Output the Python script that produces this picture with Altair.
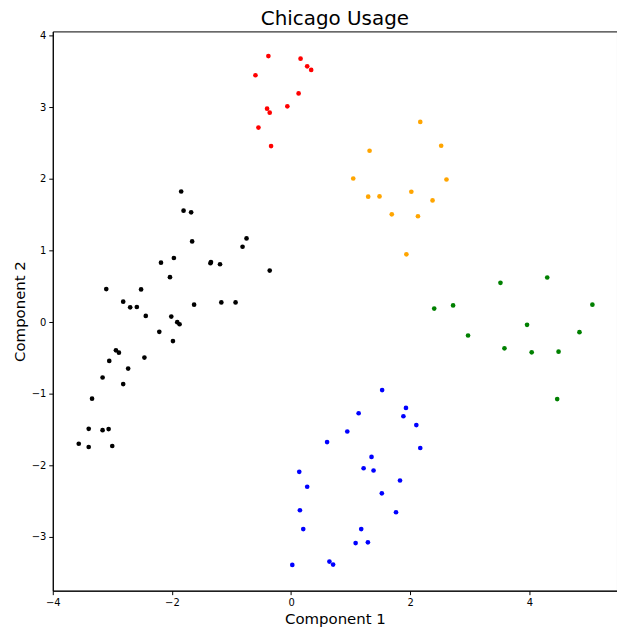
import altair as alt
import pandas as pd

black_x = [-1.845, -1.805, -1.678, -1.661, -0.815, -0.748, -0.359, -2.184, -1.967, -2.033,
           -1.354, -1.345, -1.193, -3.102, -2.518, -2.818, -2.701, -2.589, -2.439, -1.628,
           -1.171, -0.932, -2.011, -1.911, -1.872, -2.212, -1.983, -2.940, -2.890, -3.052,
           -2.462, -2.735, -3.164, -2.818, -3.341, -3.397, -3.164, -3.063, -3.564, -3.397, -3.002]
black_y = [1.825, 1.557, 1.534, 1.127, 1.053, 1.169, 0.720, 0.831, 0.896, 0.628,
           0.822, 0.840, 0.808, 0.462, 0.457, 0.286, 0.207, 0.212, 0.087, 0.244,
           0.276, 0.276, 0.078, 0.000, -0.029, -0.135, -0.265, -0.394, -0.426, -0.542,
           -0.495, -0.648, -0.773, -0.865, -1.069, -1.490, -1.508, -1.494, -1.698, -1.744, -1.730]

red_x = [-0.381, 0.159, 0.270, 0.337, -0.598, 0.126, -0.063, -0.403, -0.359, -0.548, -0.336]
red_y = [3.716, 3.680, 3.573, 3.522, 3.448, 3.194, 3.014, 2.981, 2.925, 2.717, 2.459]

orange_x = [2.168, 2.519, 1.317, 1.043, 2.608, 2.018, 1.294, 1.484, 2.374, 1.690, 2.129, 1.935]
orange_y = [2.796, 2.463, 2.394, 2.006, 1.992, 1.821, 1.752, 1.756, 1.700, 1.506, 1.479, 0.947]

blue_x = [1.528, 1.928, 1.134, 1.885, 2.102, 0.943, 0.604, 2.168, 1.350, 1.217, 1.384, 0.137,
          1.828, 0.270, 1.523, 1.761, 0.148, 0.204, 1.177, 1.083, 1.289, 0.643, 0.705, 0.020]
blue_y = [-0.949, -1.198, -1.272, -1.314, -1.438, -1.527, -1.675, -1.758, -1.882, -2.040, -2.072, -2.091,
          -2.211, -2.299, -2.391, -2.655, -2.627, -2.890, -2.890, -3.085, -3.075, -3.344, -3.386, -3.390]

green_x = [4.299, 3.514, 5.057, 2.719, 2.402, 3.960, 4.840, 2.970, 3.581, 4.038, 4.489, 4.466]
green_y = [0.623, 0.549, 0.244, 0.234, 0.189, -0.037, -0.140, -0.186, -0.366, -0.422, -0.412, -1.074]

groups = [("black", black_x, black_y), ("red", red_x, red_y), ("orange", orange_x, orange_y),
          ("blue", blue_x, blue_y), ("green", green_x, green_y)]
rows = []
for c, xs, ys in groups:
    for a, b in zip(xs, ys):
        rows.append({"c1": a, "c2": b, "cluster": c})
df = pd.DataFrame(rows)

chart = alt.Chart(df).mark_circle(size=22, opacity=1).encode(
    x=alt.X("c1:Q", title="Component 1",
            scale=alt.Scale(domain=[-4.0, 5.47], nice=False, zero=False),
            axis=alt.Axis(values=[-4, -2, 0, 2, 4], grid=False, format="d", labelFlush=False)),
    y=alt.Y("c2:Q", title="Component 2",
            scale=alt.Scale(domain=[-3.75, 4.06], nice=False, zero=False),
            axis=alt.Axis(values=[-3, -2, -1, 0, 1, 2, 3, 4], grid=False, format="d", labelFlush=False)),
    color=alt.Color("cluster:N",
                    scale=alt.Scale(domain=["black", "red", "orange", "blue", "green"],
                                    range=["#000000", "#ff0000", "#ffa500", "#0000ff", "#008000"]),
                    legend=None),
).properties(
    width=567, height=562,
    title=alt.Title("Chicago Usage", fontSize=20, font="DejaVu Sans", fontWeight="normal",
                    color="#000000", offset=0, dy=-2),
    autosize=alt.AutoSizeParams(type="none"),
    padding={"left": 45, "top": 22, "right": 0, "bottom": 40},
).configure_view(
    stroke="#000000", strokeWidth=1
).configure_axis(
    labelFont="DejaVu Sans", titleFont="DejaVu Sans", labelFontSize=10, titleFontSize=15,
    titleFontWeight="normal", labelColor="#000000", titleColor="#000000",
    domainColor="#000000", tickColor="#000000", tickSize=4, labelPadding=3,
    titlePadding=4,
)

chart.save("out.html", embed_options={"renderer": "svg", "actions": False})
